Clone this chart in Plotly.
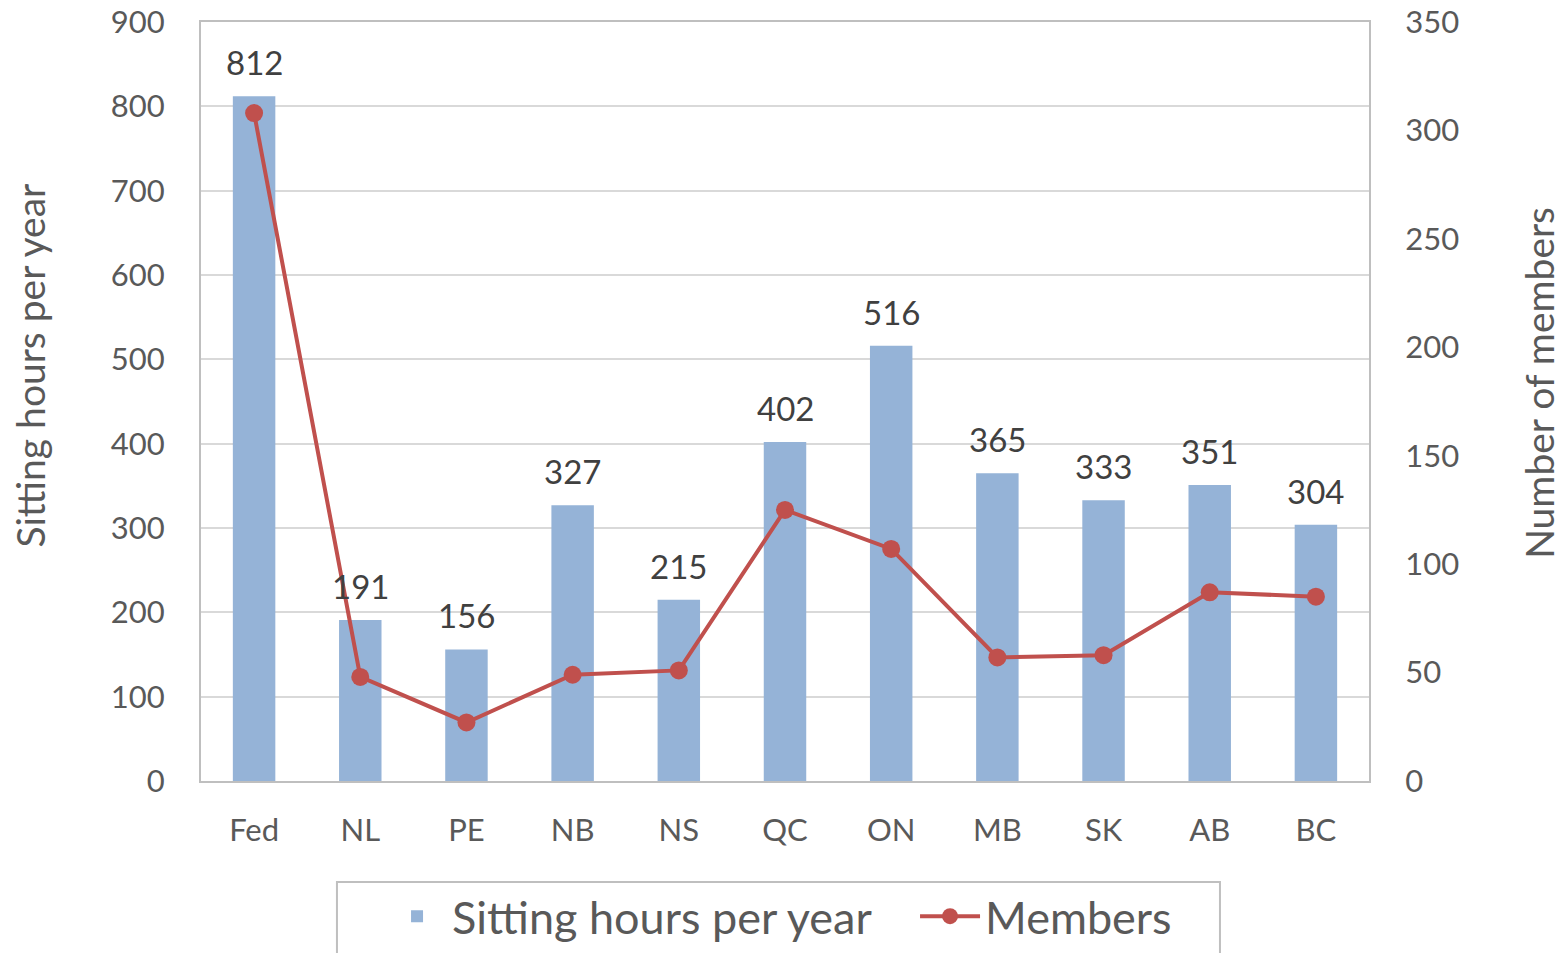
import plotly.graph_objects as go

categories = ["Fed", "NL", "PE", "NB", "NS", "QC", "ON", "MB", "SK", "AB", "BC"]
sitting_hours = [812, 191, 156, 327, 215, 402, 516, 365, 333, 351, 304]
members = [308, 48, 27, 49, 51, 125, 107, 57, 58, 87, 85]

FONT = "Lato"
TICK_COLOR = "#595959"
LABEL_COLOR = "#404040"
GRID = "#D9D9D9"
BORDER = "#BFBFBF"

fig = go.Figure()
fig.add_trace(go.Bar(
    x=categories, y=sitting_hours, name="Sitting hours per year",
    marker=dict(color="#95B3D7", line=dict(width=0)),
    yaxis="y", width=0.4,
))
fig.add_trace(go.Scatter(
    x=categories, y=members, name="Members", mode="lines+markers",
    line=dict(color="#C0504D", width=4),
    marker=dict(color="#C0504D", size=18),
    yaxis="y2",
))

for c, v in zip(categories, sitting_hours):
    fig.add_annotation(x=c, y=v, xref="x", yref="y", text=str(v),
                       showarrow=False, yanchor="bottom", yshift=12,
                       font=dict(family=FONT, size=33, color=LABEL_COLOR))

fig.add_annotation(x=-0.146, y=0.548, xref="paper", yref="paper",
                   xanchor="center", yanchor="middle",
                   text="Sitting hours per year", textangle=-90, showarrow=False,
                   font=dict(family=FONT, size=39, color=TICK_COLOR))
fig.add_annotation(x=1.146, y=0.524, xref="paper", yref="paper",
                   xanchor="center", yanchor="middle",
                   text="Number of members", textangle=-90, showarrow=False,
                   font=dict(family=FONT, size=39, color=TICK_COLOR))

# legend frame
fig.add_shape(type="rect", xref="paper", yref="paper",
              x0=0.1164, x1=0.8724, y0=-0.1331, y1=-0.25,
              line=dict(color=BORDER, width=2), fillcolor="rgba(0,0,0,0)")

fig.update_layout(
    width=1567, height=953,
    margin=dict(l=201, r=198, t=22, b=172, autoexpand=False),
    paper_bgcolor="white", plot_bgcolor="white",
    font=dict(family=FONT, size=31, color=TICK_COLOR),
    showlegend=True,
    legend=dict(orientation="h", x=0.155, xanchor="left", y=-0.131, yanchor="top",
                font=dict(family=FONT, size=45, color=TICK_COLOR),
                borderwidth=0, itemwidth=60, bgcolor="rgba(0,0,0,0)",
                traceorder="normal", entrywidth=458),
    xaxis=dict(range=[-0.5, len(categories) - 0.5],
               showline=True, linecolor=BORDER, linewidth=2, mirror=True,
               ticks="outside", ticklen=21, tickcolor="rgba(0,0,0,0)", automargin=False,
               tickfont=dict(size=31, color=TICK_COLOR)),
    yaxis=dict(range=[0, 900], dtick=100, showgrid=True, gridcolor=GRID, gridwidth=2,
               showline=True, linecolor=BORDER, linewidth=2, zeroline=False,
               ticks="outside", ticklen=28, tickcolor="rgba(0,0,0,0)", automargin=False,
               tickfont=dict(size=31, color=TICK_COLOR)),
    yaxis2=dict(range=[0, 350], dtick=50, overlaying="y", side="right", showgrid=False,
                showline=True, linecolor=BORDER, linewidth=2, zeroline=False,
                ticks="outside", ticklen=28, tickcolor="rgba(0,0,0,0)", automargin=False,
                tickfont=dict(size=31, color=TICK_COLOR)),
)

fig.write_html("out.html", config={"displayModeBar": False},
               post_script="document.body.style.margin='0';document.body.style.overflow='hidden';")
